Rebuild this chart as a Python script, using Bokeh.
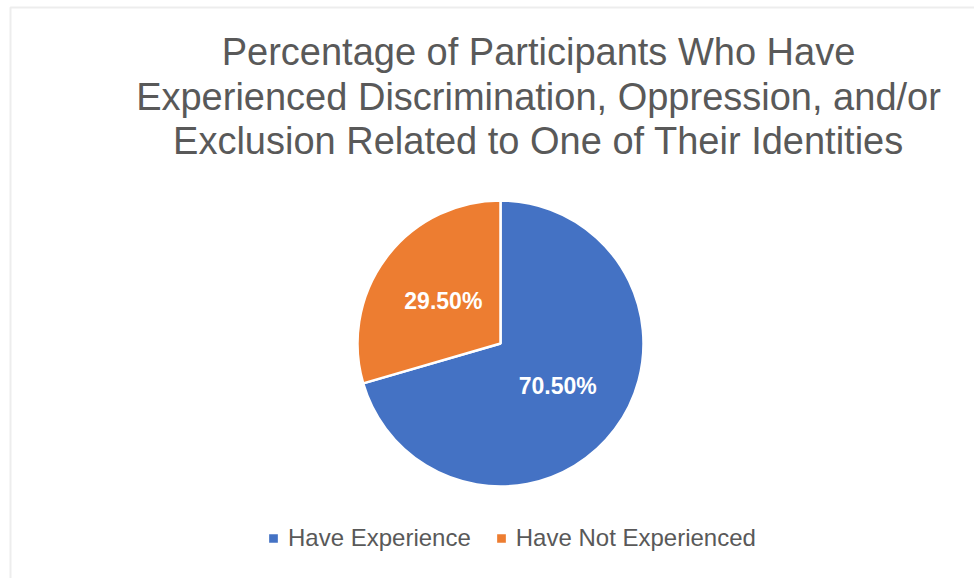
import math
from bokeh.plotting import figure
from bokeh.models import Range1d, ColumnDataSource, Legend, LegendItem, BoxAnnotation
from bokeh.core.properties import value
from bokeh.embed import file_html
from bokeh.resources import INLINE

# ---- data ----
categories = ["Have Experience", "Have Not Experienced"]
percentages = [70.50, 29.50]
colors = ["#4472C4", "#ED7D31"]
title_lines = [
    "Percentage of Participants Who Have",
    "Experienced Discrimination, Oppression, and/or",
    "Exclusion Related to One of Their Identities",
]

W, H = 974, 578
FONT = "Liberation Sans"

p = figure(width=W, height=H, x_range=Range1d(0, W), y_range=Range1d(0, H),
           output_backend="svg", toolbar_location=None, min_border=0,
           background_fill_color="white", border_fill_color="white")
p.axis.visible = False
p.grid.visible = False
p.outline_line_color = None

# frame border (top and left edges visible)
p.add_layout(BoxAnnotation(left=10, right=W + 20, top=H - 7, bottom=-20,
                           fill_alpha=0, line_color="#c4c4c4", line_width=2))

# ---- pie ----
cx, cy, r = 500, H - 343, 143
total = sum(percentages)
starts, ends, mids = [], [], []
acc = 0.0
for v in percentages:
    a0 = math.pi / 2 - 2 * math.pi * acc / total
    acc += v
    a1 = math.pi / 2 - 2 * math.pi * acc / total
    starts.append(a0)
    ends.append(a1)
    mids.append((a0 + a1) / 2)

src = ColumnDataSource(dict(start=starts, end=ends, color=colors, cat=categories))
wr = p.wedge(x=cx, y=cy, radius=r, start_angle="start", end_angle="end",
             direction="clock", fill_color="color", line_color="white",
             line_width=2.5, source=src)

lab_r = 0.5 * r
p.text(x=[cx + lab_r * math.cos(m) for m in mids],
       y=[cy + lab_r * math.sin(m) for m in mids],
       text=[f"{v:.2f}%" for v in percentages],
       text_align="center", text_baseline="middle",
       text_font=value(FONT), text_font_style="bold",
       text_font_size="23px", text_color="white")

# ---- title ----
base = [51, 96, 140]
p.text(x=[538] * 3, y=[H - b for b in base], text=title_lines,
       text_align="center", text_baseline="alphabetic",
       text_font=value(FONT), text_font_size="38px", text_color="#595959")

# ---- legend ----
items = [LegendItem(label=c, renderers=[wr], index=i) for i, c in enumerate(categories)]
legend = Legend(items=items, orientation="horizontal", location=(266, 26),
                glyph_width=14, glyph_height=14, label_standoff=8, spacing=23,
                label_text_font=FONT, label_text_font_size="24px",
                label_text_color="#595959", border_line_color=None,
                background_fill_alpha=0, padding=5, margin=0)
p.add_layout(legend)

open("out.html", "w").write(file_html(p, INLINE))
